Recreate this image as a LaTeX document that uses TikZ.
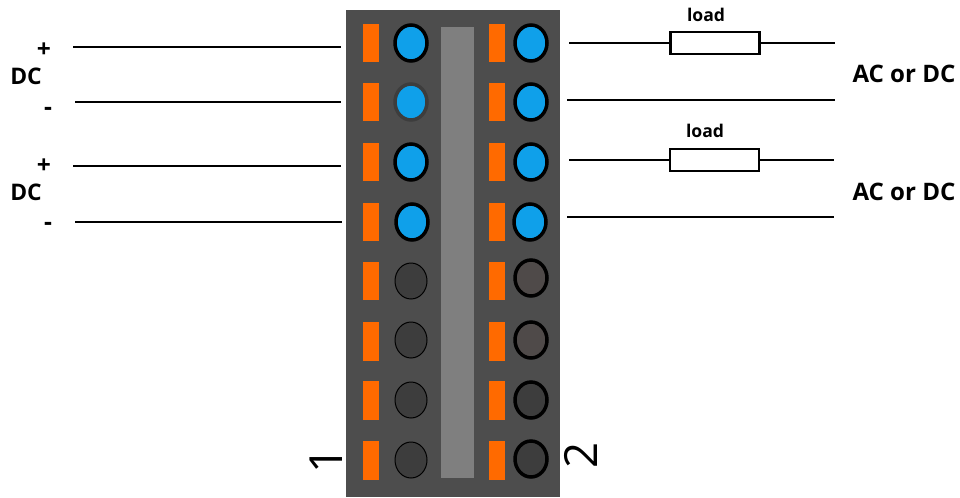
\documentclass[tikz,border=0pt]{standalone}
\usepackage{fontspec}
\setmainfont{Open Sans}
\usetikzlibrary{shapes.geometric}
\definecolor{housing}{HTML}{4D4D4D}
\definecolor{slotbar}{HTML}{7F7F7F}
\definecolor{latch}{HTML}{FF6A00}
\definecolor{ledblue}{HTML}{0FA0EA}
\definecolor{ledoff}{HTML}{3D3D3D}
\definecolor{ledwarm}{HTML}{4F4A49}
\tikzset{
  latchbox/.style={rectangle,fill=latch,inner sep=0pt,minimum width=0.32cm,minimum height=0.78cm},
  led/.style={ellipse,inner sep=0pt,minimum width=0.64cm,minimum height=0.72cm},
  ledon/.style={led,fill=ledblue,draw=black,line width=0.07cm},
  ledidle/.style={led,fill=ledoff,draw=black,line width=0.02cm},
  ledring/.style={led,draw=black,line width=0.07cm},
  wire/.style={line width=0.045cm,black},
  loadbox/.style={rectangle,draw=black,fill=white,line width=0.05cm,inner sep=0pt,minimum width=1.78cm,minimum height=0.44cm},
  tag/.style={font=\bfseries,inner sep=0pt},
  numtag/.style={inner sep=0pt,rotate=90,font=\fontsize{26}{28}\selectfont}
}
\begin{document}
\begin{tikzpicture}[x=0.02cm,y=-0.02cm]
  \useasboundingbox (0,0) rectangle (960,497);

  % Drawing housing and centre bar
  \fill [housing] (346,10) rectangle (560,497);
  \fill [slotbar] (441,27) rectangle (474,478);

  % Drawing latches
  \foreach \n/\y in {1/43,2/102,3/162,4/222,5/281,6/341,7/400,8/460} {
    \node [latchbox] (latchL\n) at (371,\y) {};
    \node [latchbox] (latchR\n) at (497,\y) {};
  }

  % Drawing lit terminals
  \foreach \n/\y/\xl/\xr in {1/43/411/531,3/162/411/531,4/222/412/530} {
    \node [ledon] (ledL\n) at (\xl,\y) {};
    \node [ledon] (ledR\n) at (\xr,\y) {};
  }
  \node [ledon,draw=ledoff] (ledL2) at (411,102) {};
  \node [ledon] (ledR2) at (531,102) {};

  % Drawing idle terminals
  \foreach \n/\y in {5/281,6/340,7/400,8/460} {
    \node [ledidle] (ledL\n) at (411,\y) {};
  }
  \node [ledring,fill=ledwarm] (ledR5) at (531,278) {};
  \node [ledring,fill=ledwarm] (ledR6) at (531,340) {};
  \node [ledring,fill=ledoff] (ledR7) at (531,400) {};
  \node [ledring,fill=ledoff] (ledR8) at (531,459) {};

  % Drawing left wires
  \foreach \n/\a/\y/\b in {1/73/47/341,2/75/102/341,3/73/166/341,4/75/222/342} {
    \coordinate (wireA\n) at (\a,\y);
    \coordinate (wireB\n) at (\b,\y);
    \draw [wire] (wireA\n) -- (wireB\n);
  }

  % Drawing loads
  \node [loadbox] (loadA) at (715,43) {};
  \node [loadbox] (loadB) at (714.5,160) {};
  \coordinate (wireC1) at (569,43);
  \coordinate (wireD1) at (835,43);
  \coordinate (wireC3) at (569,160);
  \coordinate (wireD3) at (834,160);
  \draw [wire] (wireC1) -- (loadA);
  \draw [wire] (loadA) -- (wireD1);
  \draw [wire] (wireC3) -- (loadB);
  \draw [wire] (loadB) -- (wireD3);

  % Drawing right wires without load
  \coordinate (wireC2) at (567,100);
  \coordinate (wireD2) at (835,100);
  \coordinate (wireC4) at (567,217);
  \coordinate (wireD4) at (834,217);
  \draw [wire] (wireC2) -- (wireD2);
  \draw [wire] (wireC4) -- (wireD4);

  % Marking left labels
  \node [tag,font=\bfseries\fontsize{14}{16}\selectfont] (plusA) at (44,50) {+};
  \node [tag,font=\bfseries\fontsize{13}{14}\selectfont] (dcA) at (26,76) {DC};
  \node [tag,font=\bfseries\fontsize{14}{16}\selectfont] (minusA) at (48,111) {-};
  \node [tag,font=\bfseries\fontsize{14}{16}\selectfont] (plusB) at (44,166) {+};
  \node [tag,font=\bfseries\fontsize{13}{14}\selectfont] (dcB) at (26,192) {DC};
  \node [tag,font=\bfseries\fontsize{14}{16}\selectfont] (minusB) at (48,226) {-};

  % Marking right labels
  \node [tag,font=\bfseries\fontsize{10}{12}\selectfont] (loadtextA) at (706,15) {load};
  \node [tag,font=\bfseries\fontsize{10}{12}\selectfont] (loadtextB) at (705,131) {load};
  \node [tag,font=\bfseries\fontsize{13.7}{15}\selectfont] (sourceA) at (904,74) {AC or DC};
  \node [tag,font=\bfseries\fontsize{13.7}{15}\selectfont] (sourceB) at (904,192) {AC or DC};

  % Marking terminal numbers
  \node [numtag] (numA) at (326,460) {1};
  \node [numtag] (numB) at (581,455) {2};
\end{tikzpicture}
\end{document}
